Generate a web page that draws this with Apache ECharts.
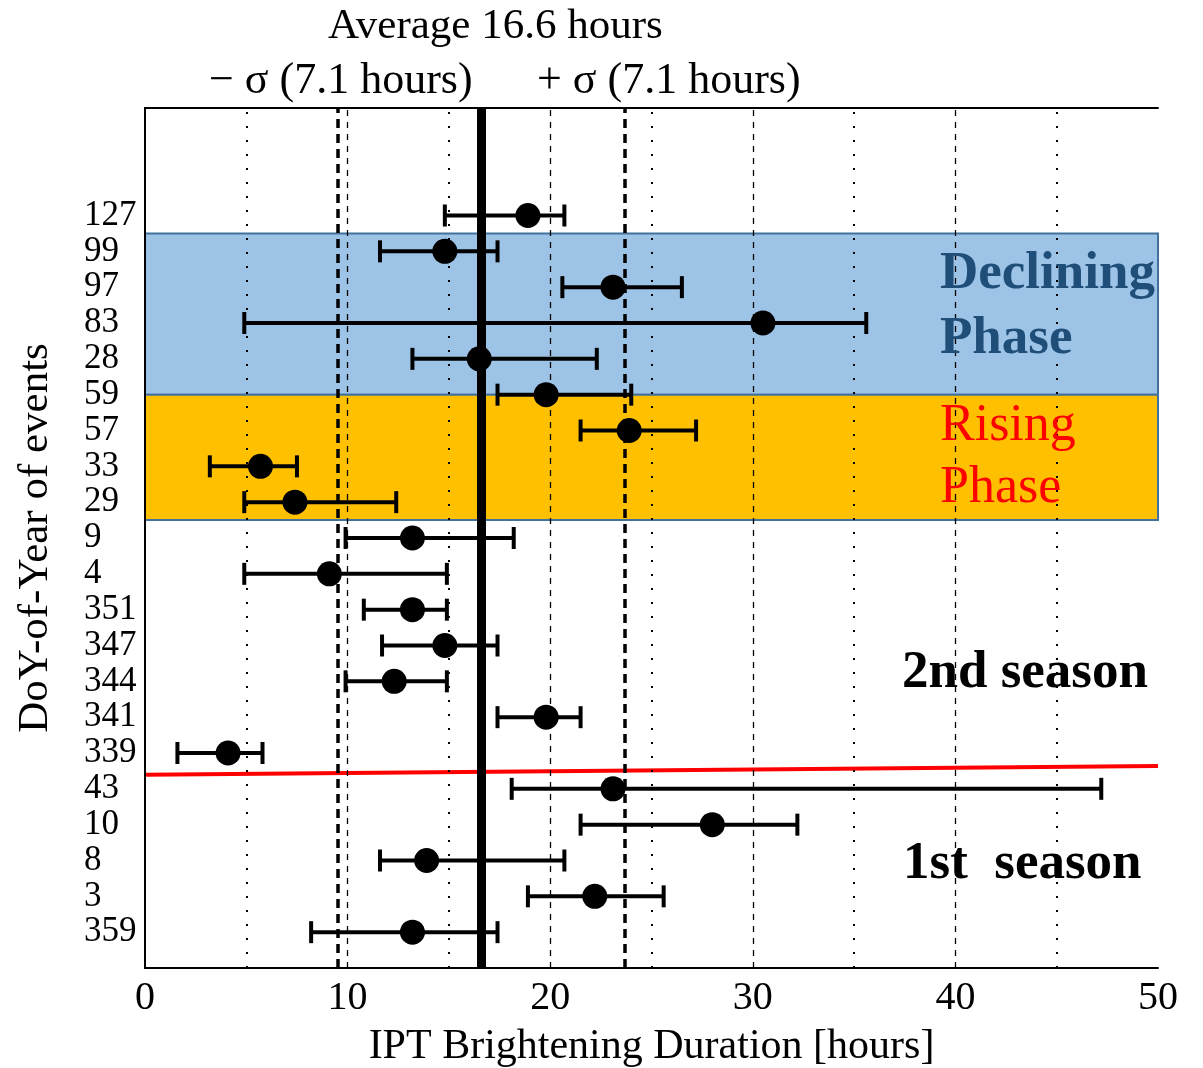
<!DOCTYPE html>
<html>
<head>
    <meta charset="utf-8">
    <title>IPT Brightening Duration</title>
    <script src="https://cdn.jsdelivr.net/npm/echarts@6/dist/echarts.min.js"></script>
    <style>
        html, body { margin: 0; padding: 0; background: #fff; }
        #chart { width: 1203px; height: 1068px; }
    </style>
</head>
<body>
<div id="chart"></div>
<script>
    // DoY labels, top to bottom
    var labels = ['127', '99', '97', '83', '28', '59', '57', '33', '29', '9', '4',
        '351', '347', '344', '341', '339', '43', '10', '8', '3', '359'];
    // brightening duration [hours] and error bar ends
    var duration = [18.9, 14.8, 23.1, 30.5, 16.5, 19.8, 23.9, 5.7, 7.4, 13.2, 9.1,
        13.2, 14.8, 12.3, 19.8, 4.1, 23.1, 28.0, 13.9, 22.2, 13.2];
    var lower = [14.8, 11.6, 20.6, 4.9, 13.2, 17.4, 21.5, 3.2, 4.9, 9.9, 4.9,
        10.8, 11.7, 9.9, 17.4, 1.6, 18.1, 21.5, 11.6, 18.9, 8.2];
    var upper = [20.7, 17.4, 26.5, 35.6, 22.3, 24.0, 27.2, 7.5, 12.4, 18.2, 14.9,
        14.9, 17.4, 14.9, 21.5, 5.8, 47.2, 32.2, 20.7, 25.6, 17.4];

    var average = 16.6;
    var sigma = 7.1;
    var majorGrid = [10, 20, 30, 40];
    var minorGrid = [5, 15, 25, 35, 45];
    var bandDeclining = [16, 20.5];
    var bandRising = [12.5, 16];
    var seasonLine = [[0, 5.39], [50, 5.64]];

    var n = labels.length;
    var points = [], bars = [];
    for (var i = 0; i < n; i++) {
        var y = n - i;
        points.push([duration[i], y]);
        bars.push([lower[i], upper[i], y]);
    }

    var font = 'Liberation Serif';
    var chart = echarts.init(document.getElementById('chart'));

    function txt(text, x, y, size, color, bold) {
        return {
            type: 'text', x: x, y: y, z: 100,
            style: {
                text: text, fill: color, verticalAlign: 'middle',
                font: (bold ? 'bold ' : '') + size + 'px "Liberation Serif"'
            }
        };
    }

    var option = {
        animation: false,
        textStyle: { fontFamily: font },
        grid: { left: 145, right: 45, top: 108, bottom: 100, outerBoundsMode: 'none', containLabel: false },
        xAxis: [{
            type: 'value', min: 0, max: 50, interval: 10, z: 1,
            name: 'IPT Brightening Duration [hours]',
            nameLocation: 'middle', nameGap: 58,
            nameTextStyle: { fontFamily: font, fontSize: 42, color: '#000' },
            axisLine: { show: true, lineStyle: { color: '#000', width: 2 } },
            axisTick: { show: false },
            axisLabel: { fontFamily: font, fontSize: 40, color: '#000', margin: 10 },
            splitLine: { show: false }
        }, {
            type: 'value', min: 0, max: 50, position: 'top', z: 5,
            axisLine: { show: true, onZero: false, lineStyle: { color: '#000', width: 2 } },
            axisTick: { show: false }, axisLabel: { show: false }, splitLine: { show: false }
        }],
        yAxis: [{
            type: 'value', min: 0, max: 24, interval: 1, z: 5,
            name: 'DoY-of-Year of events',
            nameLocation: 'middle', nameGap: 88, nameRotate: 90,
            nameTextStyle: { fontFamily: font, fontSize: 43, color: '#000' },
            axisLine: { show: true, lineStyle: { color: '#000', width: 2 } },
            axisTick: { show: false },
            splitLine: { show: false },
            axisLabel: {
                fontFamily: font, fontSize: 35, color: '#000', align: 'left', margin: 61,
                formatter: function (v) {
                    return (v >= 1 && v <= n) ? labels[n - v] : '';
                }
            }
        }, {
            type: 'value', min: 0, max: 24, position: 'right', z: 5,
            axisLine: { show: true, lineStyle: { color: '#000', width: 2 } },
            axisTick: { show: false }, axisLabel: { show: false }, splitLine: { show: false }
        }],
        series: [{
            // phase bands
            type: 'line', data: [], z: 0, silent: true,
            markArea: {
                silent: true,
                data: [
                    [{ yAxis: bandDeclining[0], itemStyle: { color: '#9dc3e6', borderColor: '#41719c', borderWidth: 2 } },
                        { yAxis: bandDeclining[1] }],
                    [{ yAxis: bandRising[0], itemStyle: { color: '#ffc000', borderColor: '#41719c', borderWidth: 2 } },
                        { yAxis: bandRising[1] }]
                ]
            }
        }, {
            // grid lines drawn above the bands
            type: 'line', data: [], z: 1, silent: true,
            markLine: {
                silent: true, symbol: 'none', label: { show: false },
                data: majorGrid.map(function (v) {
                    return { xAxis: v, lineStyle: { color: '#000', type: [6, 6], width: 1.3 } };
                }).concat(minorGrid.map(function (v) {
                    return { xAxis: v, lineStyle: { color: '#000', type: [2, 12], width: 2 } };
                }))
            }
        }, {
            // average and sigma lines
            type: 'line', data: [], z: 2, silent: true,
            markLine: {
                silent: true, symbol: 'none', label: { show: false },
                data: [
                    { xAxis: average, lineStyle: { color: '#000', type: 'solid', width: 9 } },
                    { xAxis: +(average - sigma).toFixed(1), lineStyle: { color: '#000', type: [9, 6], width: 3.5 } },
                    { xAxis: +(average + sigma).toFixed(1), lineStyle: { color: '#000', type: [9, 6], width: 3.5 } }
                ]
            }
        }, {
            // season boundary
            type: 'line', data: seasonLine, z: 3, symbol: 'none',
            lineStyle: { color: '#ff0000', width: 4 }
        }, {
            // error bars
            type: 'custom', data: bars, z: 4,
            renderItem: function (params, api) {
                var p1 = api.coord([api.value(0), api.value(2)]);
                var p2 = api.coord([api.value(1), api.value(2)]);
                var h = 11;
                var st = { stroke: '#000', lineWidth: 4 };
                return {
                    type: 'group',
                    children: [
                        { type: 'line', shape: { x1: p1[0], y1: p1[1], x2: p2[0], y2: p2[1] }, style: st },
                        { type: 'line', shape: { x1: p1[0], y1: p1[1] - h, x2: p1[0], y2: p1[1] + h }, style: st },
                        { type: 'line', shape: { x1: p2[0], y1: p2[1] - h, x2: p2[0], y2: p2[1] + h }, style: st }
                    ]
                };
            }
        }, {
            type: 'scatter', data: points, z: 5,
            symbol: 'circle', symbolSize: 25,
            itemStyle: { color: '#000', opacity: 1 }
        }],
        graphic: [
            txt('Average 16.6 hours', 328, 27, 43, '#000', false),
            txt('\u2212 \u03c3 (7.1 hours)', 209, 81, 44, '#000', false),
            txt('+ \u03c3 (7.1 hours)', 537, 81, 44, '#000', false),
            txt('Declining', 940, 274, 53, '#1f4e79', true),
            txt('Phase', 940, 339, 53, '#1f4e79', true),
            txt('Rising', 940, 426, 52, '#ff0000', false),
            txt('Phase', 940, 488, 52, '#ff0000', false),
            txt('2nd season', 902, 673, 53, '#000', true),
            txt('1st  season', 903, 864, 53, '#000', true)
        ]
    };
    chart.setOption(option);
    window.onresize = function () {
        chart.resize();
    };
</script>
</body>
</html>
